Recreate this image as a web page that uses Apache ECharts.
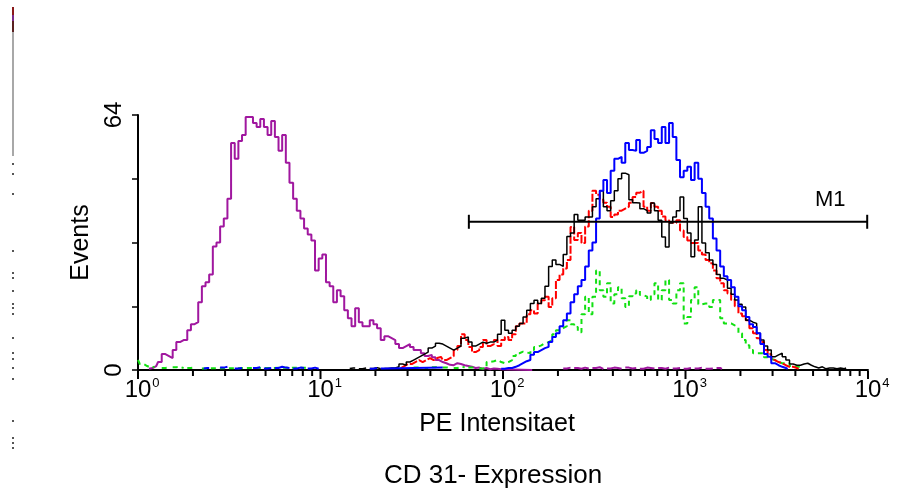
<!DOCTYPE html>
<html>
<head>
<meta charset="utf-8">
<script src="https://cdn.jsdelivr.net/npm/echarts@6/dist/echarts.min.js"></script>
<style>
  html, body { margin: 0; padding: 0; background: #ffffff; }
  #chart { width: 901px; height: 490px; }
</style>
</head>
<body>
<div id="chart"></div>
<script>
// Histogram channels: each bin covers BIN_WIDTH decades of PE intensity.
const BIN_WIDTH = 0.02;
const DECADES = [1, 10, 100, 1000, 10000];
const MINOR_STEPS = [2, 3, 4, 5, 6, 7, 8, 9];
const Y_TICKS = [0, 16, 32, 48, 64];
const Y_LABELS = [0, 64];
const M1_RANGE = [65, 9900];
const M1_LEVEL = 37.2;

// Isotype control (purple)
const purpleStart = 3;
const purpleCounts = [0.3,0.5,1,2,4,3.5,3,5,7,7.5,7.5,10,11.5,12,17,21,22,24,31,32,36,38,43,57,53,57.5,59,63.5,63.5,62,61,63,61,59,62.5,58.5,55,59,52,47,43,40,38,35.5,34,32.5,25,28,29,22,21,17,20,18.5,15,13,11,15.5,12,11,11,12.5,11.5,10.5,7.5,8.5,8,7.5,6.5,5.5,6,6.5,5.8,5,5,4.2,3.5,3.8,3.2,2.5,2,1.7,1.3,1.2,1.7,1.5,1.2,1,0.8,0.5,0.6,0.3,0.5,0.2,0.4,0.3,0.2,0];
const purpleTailStart = 117;
const purpleTail = [0.4,0.6,null,0.5,0.3,0.6,0.4,null,0.5,0.7,0.3,null,0.4,0.6,0.5,0.3,null,0.6,0.4,0.5,null,0.3,0.6,0.5,0.4,null,0.5,0.3,0.6,null,0.4,0.5,null,0.3,0.5,null,0.4,0.6,null,0.3,0.4,null,0.5,0.3];

// Sample 1 (black)
const blackStart = 58;
const blackCounts = [0.4,0.5,null,0.3,0.5,null,0.4,0.6,0.3,null,0.4,0.5,
  0.5,0.8,1.5,1.2,2,2.5,3,3.5,4,4.5,5.5,6,6.7,6.5,6,5.5,5,5.5,6,8,8.3,7,6,6.5,7,6.7,7,7,7.5,9,
  12.5,10,9.2,10,11,11.7,13.3,15,16.7,17.5,16.7,18,21,26,27.6,26.5,26,29,33.5,34.4,
  39,37.6,37.6,38.4,38.4,41,43,45,41,40,42.5,45,48,49.4,49,42.7,42,41.9,40.5,40,
  39.4,41.9,40,37.6,33.4,30.9,36.9,38.4,40,43.4,38,34.4,28.4,32.6,41,31.9,29.4,27.6,26.5,24,
  23,22.6,20.5,19,17.6,16.5,15.8,12.5,12,11.7,9.2,7.5,6,5,3.3,3.8,4.2,3.3,2.5,1.5,
  1.2,1.2,1.5,1.7,1.2,0.8,0.5,0.8,0.3,0.5,0.5,0.3,0.5,0.3,0.5];

// Sample 2 (red)
const redStart = 72;
const redCounts = [0.5,1,1.5,1.5,2,2.5,2,2.5,3,2.5,3,3.3,2.5,3,3.5,5,6,9,7.5,5.8,4.5,5,5.8,7.5,6,6.5,7.5,6,
  7.5,8.3,7.5,9,11,11.7,11.7,14,15,14.2,16.7,17.5,18.4,15.8,18,22.6,24,25.5,27.6,35.9,
  32.6,34.4,31.9,36,40,45,44,42.7,42,41,38.4,39,40,40.5,41,42,43.4,44.5,45,41,
  40,41.9,41,40,38.5,37.6,37,36.9,37.6,35,33.4,32.5,31.9,31.9,30,29,27.6,26.8,25,23,
  21.8,20,19.2,17.6,16,14.2,13.5,12.5,10.5,9.2,8,7,5,4,2.5,2,1.7,1.2,0.8,0.8,0.5,0.3];

// Sample 3 (blue)
const blueBaseStart = 18;
const blueBase = [0.4,0.5,null,null,null,0.6,0.8,null,null,0.4,0.5,null,null,null,0.5,0.7,null,0.4,0.5,null,
  0.5,0.8,0.6,0.5,null,0.4,0.6,0.5,null,0.4,0.6,0.3,null,null,null,null,null,null,null,null,
  null,null,null,null,null,null,0.3,0.5,null,0.4,0.6];
const blueStart = 100;
const blueCounts = [0.3,0.5,0.5,0.8,1.2,1.7,2.2,2.5,3.8,4.5,5,5.5,5.8,7,8.3,9.2,11,12.5,14.2,17,
  19,21,22.6,26,30,32,38,45,47.7,44.4,50,53,53.5,52,57,55.2,55,57.7,54.5,55,
  56,60.2,58,57,61,57,62,58.5,52.7,48.4,50,51,47.7,52,48,44.4,41,38,33,30,
  26,23.5,22.6,20.8,18.4,16,15,13.3,11.5,10.8,9.2,6.5,4,3.3,1.7,1.2,0.8,0.5,0.3];

// Sample 4 (green)
const greenBaseStart = 0;
const greenBase = [2.5,1.5,1,0.6,0.8,null,null,0.5,0.6,null,0.7,0.8,0.5,null,0.5,0.6,null,null,0.4,0.6];
const greenStart = 76;
const greenCounts = [0.6,0.8,null,0.5,null,0.7,0.9,null,0.6,0.8,null,0.5,0.8,0.7,null,0.6,0.8,null,0.4,
  0.5,2,2.2,2.5,2,1.7,2,2.5,3.5,4.2,4.6,4.4,4.2,5,5.8,6.2,6.7,7,7.5,9,10,10.5,11,12.5,11.5,
  10.8,9.5,14,18.4,14,18.4,25,20,18.4,21.8,16.7,19,20.8,18,15.8,18.5,19.2,20,18.8,18.4,
  17.6,19,21.8,17.6,20,22.6,17.6,16.7,20,21.8,11.7,13.3,17.6,20.8,16.5,16.7,16.7,15.8,17.6,17.6,
  13,11.7,11.7,11.2,10.8,9.2,7.5,6.2,5,4.2,4.2,4.2,3.2,2.8,2.5,2,1.7,1.7,1.7,1,0.8,0.8,0.5];

// Build [intensity, count] pairs from runs of channel bins; runs are separated by gaps.
function binsToPoints(runs) {
  const pts = [];
  runs.forEach(([start, counts], r) => {
    if (r > 0) pts.push([Math.pow(10, (start - 1) * BIN_WIDTH), null]);
    counts.forEach((c, k) => pts.push([Math.pow(10, (start + k) * BIN_WIDTH), c]));
  });
  return pts;
}

const minorTickValues = DECADES.slice(0, -1).flatMap(d => MINOR_STEPS.map(m => m * d));

const FONT = '"Liberation Sans", Arial, Helvetica, sans-serif';

function histSeries(name, color, width, runs, dash, z) {
  return {
    name: name,
    type: 'line',
    step: 'middle',
    showSymbol: false,
    symbol: 'none',
    connectNulls: false,
    z: z,
    lineStyle: { color: color, width: width, type: dash || 'solid' },
    data: binsToPoints(runs),
    animation: false
  };
}

// Thin scan border artefact along the left edge
const edgeDots = [163, 173, 193, 250, 272, 277, 290, 303, 307, 313, 337, 352, 358, 367, 378, 420, 437, 442, 447];
const edgeGraphics = [
  { type: 'rect', shape: { x: 12, y: 7, width: 2, height: 8 }, style: { fill: '#8b1a1a' } },
  { type: 'rect', shape: { x: 12, y: 15, width: 2, height: 6 }, style: { fill: '#7a2a8a' } },
  { type: 'rect', shape: { x: 12, y: 21, width: 2, height: 11 }, style: { fill: '#5a2020' } },
  { type: 'rect', shape: { x: 12, y: 32, width: 2, height: 124 }, style: { fill: '#a8a8a8' } }
].concat(edgeDots.map(y => ({ type: 'rect', shape: { x: 12, y: y, width: 2, height: 2 }, style: { fill: '#555555' } })));

const titleGraphic = {
  type: 'text',
  x: 493,
  y: 476,
  style: {
    text: 'CD 31- Expression',
    font: '26px ' + FONT,
    fill: '#000',
    align: 'center',
    verticalAlign: 'middle'
  }
};

const chart = echarts.init(document.getElementById('chart'), null, { renderer: 'canvas' });

chart.setOption({
  animation: false,
  backgroundColor: '#ffffff',
  grid: { left: 138, top: 115, width: 730, height: 255, containLabel: false },
  xAxis: {
    type: 'log',
    logBase: 10,
    min: DECADES[0],
    max: DECADES[DECADES.length - 1],
    name: 'PE Intensitaet',
    nameLocation: 'middle',
    nameGap: 42,
    nameTextStyle: { fontFamily: FONT, fontSize: 25, color: '#000', padding: [0, 12, 0, 0] },
    axisLine: { show: true, onZero: false, lineStyle: { color: '#000', width: 2 } },
    axisTick: { show: false },
    minorTick: { show: false },
    splitLine: { show: false },
    axisLabel: {
      margin: 7,
      formatter: function (v) {
        const e = Math.round(Math.log10(v));
        return '{p|}{b|10}{e|' + e + '}';
      },
      rich: {
        p: { width: 9 },
        b: { fontFamily: FONT, fontSize: 24, lineHeight: 26, color: '#000' },
        e: { fontFamily: FONT, fontSize: 13, lineHeight: 14, width: 9, verticalAlign: 'top', color: '#000' }
      }
    }
  },
  yAxis: {
    type: 'value',
    min: Y_TICKS[0],
    max: Y_TICKS[Y_TICKS.length - 1],
    interval: Y_TICKS[1] - Y_TICKS[0],
    name: 'Events',
    nameLocation: 'middle',
    nameRotate: 90,
    nameGap: 37,
    nameTextStyle: { fontFamily: FONT, fontSize: 25, color: '#000' },
    axisLine: { show: true, lineStyle: { color: '#000', width: 2 } },
    axisTick: { show: true, inside: false, length: 6, lineStyle: { color: '#000', width: 1.5 } },
    splitLine: { show: false },
    axisLabel: {
      rotate: 90,
      margin: 12,
      fontFamily: FONT,
      fontSize: 24,
      color: '#000',
      formatter: v => (Y_LABELS.indexOf(v) >= 0 ? String(v) : '')
    }
  },
  graphic: edgeGraphics.concat([titleGraphic]),
  series: [
    histSeries('Isotyp', '#a0179f', 2, [[purpleStart, purpleCounts], [purpleTailStart, purpleTail]], null, 3),
    histSeries('Probe 4', '#12e012', 2, [[greenBaseStart, greenBase], [greenStart, greenCounts]], [5, 4], 4),
    histSeries('Probe 2', '#ff0000', 2, [[redStart, redCounts]], [8, 2], 5),
    histSeries('Probe 1', '#000000', 1.5, [[blackStart, blackCounts]], null, 6),
    histSeries('Probe 3', '#0000ff', 2, [[blueBaseStart, blueBase], [blueStart, blueCounts]], null, 7),
    {
      name: 'M1',
      type: 'line',
      silent: true,
      z: 8,
      symbol: 'rect',
      symbolSize: [2, 14],
      showSymbol: true,
      itemStyle: { color: '#000' },
      lineStyle: { color: '#000', width: 2 },
      data: [
        [M1_RANGE[0], M1_LEVEL],
        {
          value: [M1_RANGE[1], M1_LEVEL],
          label: {
            show: true,
            formatter: 'M1',
            position: 'top',
            distance: 4,
            offset: [-37, 0],
            fontFamily: FONT,
            fontSize: 22,
            color: '#000'
          }
        }
      ],
      animation: false
    }
  ]
});

// Intensity-axis ticks: decades (long) and 2..9 per decade (short), placed through the axis scale
function axisTickGraphic(v, len) {
  const p = chart.convertToPixel({ xAxisIndex: 0, yAxisIndex: 0 }, [v, Y_TICKS[0]]);
  return {
    type: 'line',
    z: 20,
    shape: { x1: p[0], y1: p[1] + 1, x2: p[0], y2: p[1] + len },
    style: { stroke: '#000', lineWidth: 2 }
  };
}
const tickGraphics = DECADES.map(v => axisTickGraphic(v, 9))
  .concat(minorTickValues.map(v => axisTickGraphic(v, 6)));
chart.setOption({ graphic: edgeGraphics.concat([titleGraphic], tickGraphics) });
</script>
</body>
</html>
